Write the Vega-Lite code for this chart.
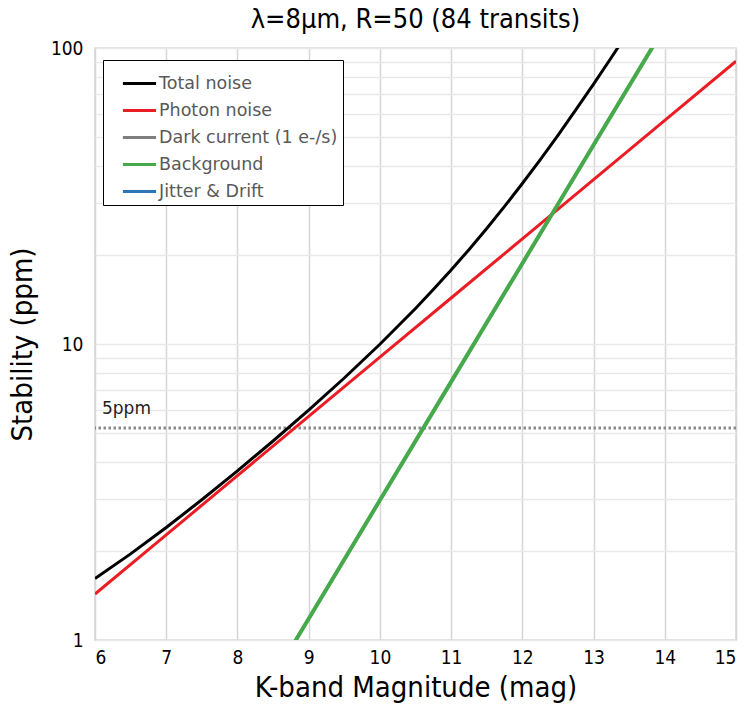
{
  "$schema": "https://vega.github.io/schema/vega-lite/v6.json",
  "autosize": {"type": "none"},
  "width": 641,
  "height": 592,
  "padding": {"left": 95, "top": 48, "right": 8, "bottom": 68},
  "background": "white",
  "config": {
    "view": {"stroke": "#d6d6d6", "strokeWidth": 1.5},
    "font": "'DejaVu Sans Condensed', 'Open Sans', sans-serif"
  },
  "title": {
    "text": "λ=8μm, R=50 (84 transits)",
    "fontSize": 27,
    "fontWeight": "normal",
    "color": "#000000",
    "font": "'DejaVu Sans Condensed', 'Open Sans', sans-serif",
    "anchor": "middle",
    "offset": 5
  },
  "datasets": {
    "curves": [
      {"mag": 6, "noise": 1.614, "series": "Total noise"},
      {"mag": 6.5, "noise": 1.954, "series": "Total noise"},
      {"mag": 7, "noise": 2.399, "series": "Total noise"},
      {"mag": 7.5, "noise": 2.977, "series": "Total noise"},
      {"mag": 8, "noise": 3.727, "series": "Total noise"},
      {"mag": 8.5, "noise": 4.702, "series": "Total noise"},
      {"mag": 9, "noise": 5.979, "series": "Total noise"},
      {"mag": 9.5, "noise": 7.676, "series": "Total noise"},
      {"mag": 10, "noise": 9.977, "series": "Total noise"},
      {"mag": 10.5, "noise": 13.18, "series": "Total noise"},
      {"mag": 10.75, "noise": 15.27, "series": "Total noise"},
      {"mag": 11, "noise": 17.77, "series": "Total noise"},
      {"mag": 11.25, "noise": 20.83, "series": "Total noise"},
      {"mag": 11.5, "noise": 24.56, "series": "Total noise"},
      {"mag": 11.75, "noise": 29.16, "series": "Total noise"},
      {"mag": 12, "noise": 34.85, "series": "Total noise"},
      {"mag": 12.25, "noise": 41.91, "series": "Total noise"},
      {"mag": 12.5, "noise": 50.72, "series": "Total noise"},
      {"mag": 12.75, "noise": 61.75, "series": "Total noise"},
      {"mag": 13, "noise": 75.54, "series": "Total noise"},
      {"mag": 13.25, "noise": 92.87, "series": "Total noise"},
      {"mag": 13.5, "noise": 114.6, "series": "Total noise"},
      {"mag": 6, "noise": 1.43, "series": "Photon noise"},
      {"mag": 7, "noise": 2.266, "series": "Photon noise"},
      {"mag": 8, "noise": 3.592, "series": "Photon noise"},
      {"mag": 9, "noise": 5.693, "series": "Photon noise"},
      {"mag": 10, "noise": 9.023, "series": "Photon noise"},
      {"mag": 11, "noise": 14.3, "series": "Photon noise"},
      {"mag": 12, "noise": 22.66, "series": "Photon noise"},
      {"mag": 13, "noise": 35.92, "series": "Photon noise"},
      {"mag": 14, "noise": 56.93, "series": "Photon noise"},
      {"mag": 15, "noise": 90.23, "series": "Photon noise"},
      {"mag": 8, "noise": 0.47, "series": "Dark current (1 e-/s)"},
      {"mag": 9, "noise": 1.18, "series": "Dark current (1 e-/s)"},
      {"mag": 10, "noise": 2.965, "series": "Dark current (1 e-/s)"},
      {"mag": 11, "noise": 7.447, "series": "Dark current (1 e-/s)"},
      {"mag": 12, "noise": 18.71, "series": "Dark current (1 e-/s)"},
      {"mag": 13, "noise": 46.99, "series": "Dark current (1 e-/s)"},
      {"mag": 14, "noise": 118.0, "series": "Dark current (1 e-/s)"},
      {"mag": 8, "noise": 0.47, "series": "Background"},
      {"mag": 9, "noise": 1.18, "series": "Background"},
      {"mag": 10, "noise": 2.965, "series": "Background"},
      {"mag": 11, "noise": 7.447, "series": "Background"},
      {"mag": 12, "noise": 18.71, "series": "Background"},
      {"mag": 13, "noise": 46.99, "series": "Background"},
      {"mag": 14, "noise": 118.0, "series": "Background"},
      {"mag": 6, "noise": 0.74, "series": "Jitter & Drift"},
      {"mag": 15, "noise": 0.74, "series": "Jitter & Drift"}
    ],
    "threshold": [{"level": 5.2, "label": "5ppm"}]
  },
  "layer": [
    {
      "data": {"name": "threshold"},
      "mark": {"type": "rule", "color": "#8a8a8a", "strokeWidth": 3, "strokeDash": [2.5, 2.5]},
      "encoding": {"y": {"field": "level", "type": "quantitative", "scale": {"type": "log", "domain": [1, 100]}}}
    },
    {
      "data": {"name": "threshold"},
      "mark": {"type": "text", "align": "left", "baseline": "middle", "dx": 7, "dy": -19, "fontSize": 17, "color": "#222222", "font": "DejaVu Sans"},
      "encoding": {
        "x": {"datum": 6, "type": "quantitative"},
        "y": {"field": "level", "type": "quantitative"},
        "text": {"field": "label"}
      }
    },
    {
      "data": {"name": "curves"},
      "transform": [{"filter": "datum.series == 'Jitter & Drift' || datum.series == 'Dark current (1 e-/s)'"}],
      "mark": {"type": "line", "strokeWidth": 3, "clip": true},
      "encoding": {
        "x": {"field": "mag", "type": "quantitative"},
        "y": {"field": "noise", "type": "quantitative"},
        "color": {"field": "series", "type": "nominal"}
      }
    },
    {
      "data": {"name": "curves"},
      "transform": [{"filter": "datum.series == 'Photon noise'"}],
      "mark": {"type": "line", "strokeWidth": 3, "clip": true},
      "encoding": {
        "x": {"field": "mag", "type": "quantitative"},
        "y": {"field": "noise", "type": "quantitative"},
        "color": {"field": "series", "type": "nominal"}
      }
    },
    {
      "data": {"name": "curves"},
      "transform": [{"filter": "datum.series == 'Background'"}],
      "mark": {"type": "line", "strokeWidth": 4, "clip": true},
      "encoding": {
        "x": {"field": "mag", "type": "quantitative"},
        "y": {"field": "noise", "type": "quantitative"},
        "color": {"field": "series", "type": "nominal"}
      }
    },
    {
      "data": {"name": "curves"},
      "transform": [{"filter": "datum.series == 'Total noise'"}],
      "mark": {"type": "line", "strokeWidth": 3, "clip": true},
      "encoding": {
        "x": {
          "field": "mag", "type": "quantitative",
          "scale": {"domain": [6, 15], "nice": false, "zero": false},
          "axis": {
            "values": [6, 7, 8, 9, 10, 11, 12, 13, 14, 15],
            "format": "d",
            "title": "K-band Magnitude (mag)",
            "titleFontSize": 29, "titleFontWeight": "normal", "titleColor": "#000000", "titlePadding": 6,
            "labelFontSize": 19, "labelColor": "#000000", "labelPadding": 8,
            "ticks": false, "domain": false,
            "grid": true, "gridColor": "#d6d6d6", "gridWidth": 1.5
          }
        },
        "y": {
          "field": "noise", "type": "quantitative",
          "scale": {"type": "log", "domain": [1, 100]},
          "axis": {
            "values": [1, 2, 3, 4, 5, 6, 7, 8, 9, 10, 20, 30, 40, 50, 60, 70, 80, 90, 100],
            "labelExpr": "datum.value == 1 || datum.value == 10 || datum.value == 100 ? datum.label : ''",
            "title": "Stability (ppm)",
            "titleFontSize": 29, "titleFontWeight": "normal", "titleColor": "#000000", "titlePadding": 13,
            "labelFontSize": 19, "labelColor": "#000000", "labelPadding": 12,
            "ticks": false, "domain": false,
            "grid": true, "gridColor": "#e9e9e9", "gridWidth": 1.5
          }
        },
        "color": {
          "field": "series", "type": "nominal",
          "scale": {
            "domain": ["Total noise", "Photon noise", "Dark current (1 e-/s)", "Background", "Jitter & Drift"],
            "range": ["#000000", "#ec1c24", "#7f7f7f", "#46a94b", "#2e75b6"]
          },
          "legend": {
            "title": null,
            "orient": "none",
            "legendX": 8,
            "legendY": 12,
            "symbolType": "stroke",
            "symbolSize": 1100,
            "symbolStrokeWidth": 3,
            "symbolOffset": 13,
            "labelFont": "DejaVu Sans",
            "labelFontSize": 17.5,
            "labelColor": "#595959",
            "labelLimit": 400,
            "labelOffset": 1,
            "rowPadding": -5,
            "padding": 5,
            "strokeColor": "#000000",
            "fillColor": "#ffffff",
            "cornerRadius": 0
          }
        }
      }
    }
  ]
}
